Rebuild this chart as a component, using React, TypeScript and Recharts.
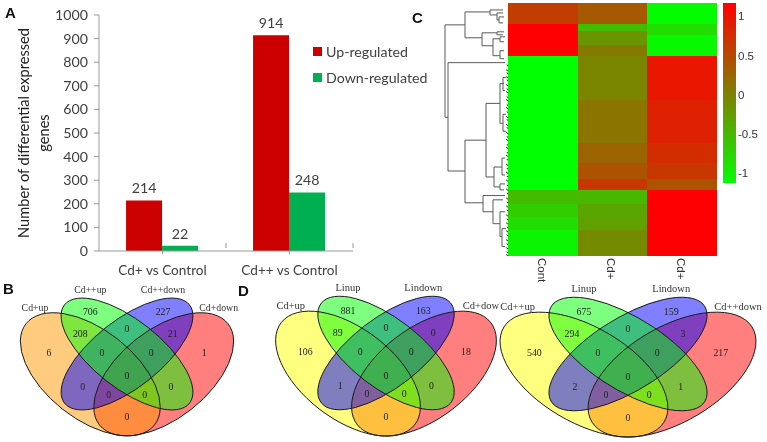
import React from "react";
import {
  Bar, BarChart, Cell, LabelList, Legend, Line, LineChart, Scatter, ScatterChart, XAxis, YAxis,
} from "recharts";

// ---------- Panel A data ----------
const comparisons = ["Cd+ vs Control", "Cd++ vs Control"];
const upRegulated = [214, 914];
const downRegulated = [22, 248];
const countTicks = [0, 100, 200, 300, 400, 500, 600, 700, 800, 900, 1000];

// ---------- Panel C data ----------
const heatColumns = ["Cont", "Cd+", "Cd+"];
const rowWeights = [62, 23, 10, 30, 35, 130, 130, 60, 47, 33, 40, 40, 40, 77];
const contValues = [0.6, 1.15, 1.15, 1.15, 1.15, -1.15, -1.15, -1.15, -1.15, -1.15, -0.55, -0.7, -0.85, -1.05];
const cdValues = [0.35, -0.55, -0.2, -0.2, 0.05, -0.05, 0.1, 0.25, 0.4, 0.65, -0.5, -0.35, -0.3, -0.1];
const cd2Values = [-1.12, -0.85, -0.85, -1.1, -1.1, 0.95, 0.85, 0.75, 0.65, 0.4, 1.15, 1.15, 1.15, 1.15];
const colorbarRange = [-1.13, 1.17];
const colorbarTicks = [-1, -0.5, 0, 0.5, 1];
// merge: [height, upper row, upper child height, lower row, lower child height]
const merges = [
  [5, 19, 25, 112, 8], [8, 57, 65, 166, 25], [25, 6, 50, 32, 42], [50, 4, 63, 9, 57], [57, 7, 63, 14, 59],
  [59, 11, 64, 17, 63], [42, 27, 57, 40, 53], [57, 26, 64, 29, 63], [53, 33, 60, 50, 60], [60, 31, 65, 36, 64],
  [60, 45, 64, 53, 64], [25, 135, 46, 198, 43], [46, 98, 60, 172, 54], [60, 78, 64, 118, 63], [63, 72, 66, 85, 65],
  [63, 109, 66, 126, 66], [54, 162, 62, 182, 60], [62, 153, 65, 170, 65], [60, 179, 65, 185, 64],
  [43, 190.7, 65, 207, 53], [53, 195, 63, 219, 60], [60, 207, 65, 232, 62], [62, 224, 66, 242, 65],
];
const leafRows = [59, 64, 67, 71, 74, 79, 83, 86, 91, 94, 99, 102, 106, 111, 114, 119, 122, 127, 131, 134, 139, 142, 147, 150, 154, 159, 163, 167, 171, 175, 180, 184, 188, 193, 197, 201, 205, 210, 214, 218, 222, 226, 230, 235, 239, 243, 247, 250];

// ---------- Venn data ----------
const vennBNames = ["Cd+up", "Cd++up", "Cd++down", "Cd+down"];
const vennBCounts = [6, 706, 208, 227, 21, 1, 0, 0, 0, 0, 0, 0, 0, 0, 0];
const vennD1Names = ["Cd+up", "Linup", "Lindown", "Cd+dow"];
const vennD1Counts = [106, 881, 89, 163, 0, 18, 0, 0, 0, 0, 1, 0, 0, 0, 0];
const vennD2Names = ["Cd++up", "Linup", "Lindown", "Cd++down"];
const vennD2Counts = [540, 675, 294, 159, 3, 217, 0, 0, 0, 0, 2, 1, 0, 0, 0];

// ---------- Layout / style constants ----------
const nameSlots = [[-92, -46.5], [-36.7, -65], [36, -65], [91.7, -46.5]];
const countSlots = [
  [-78, -1.3], [-36.7, -42.3], [-46.7, -20.3], [36, -42.3], [45.7, -20.3], [77.3, -1.3], [0, -25.3], [-25, -1.3],
  [24.3, -1.3], [0, 21.7], [-44.3, 32], [44, 32], [-18.3, 40.3], [17.7, 40.3], [0, 62.3],
];
const SANS = "Lato, 'Open Sans', sans-serif";
const ARIAL = "'Liberation Sans', Arial, sans-serif";
const SERIF = "'Liberation Serif', 'Times New Roman', serif";
const RED = "#CC0000";
const GREEN = "#00B050";
const INK = "#404040";

const heatColor = (v: number) => {
  const t = Math.max(0, Math.min(1, (v + 1.15) / 2.3));
  return `rgb(${Math.round(255 * t)},${Math.round(255 * (1 - t))},0)`;
};

const barData = comparisons.map((name, i) => ({ name, up: upRegulated[i], down: downRegulated[i] }));
const heatSeries = [contValues, cdValues, cd2Values];
const heatData = heatColumns.map((name, c) => {
  const row: Record<string, number | string> = { id: `${name}${c}`, name };
  rowWeights.forEach((w, r) => { row[`r${r}`] = w; });
  return row;
});
const dendroData: { x: number; y: number | null }[] = [];
merges.forEach(([h, y1, c1, y2, c2]) => {
  dendroData.push({ x: c1, y: y1 }, { x: h, y: y1 }, { x: h, y: y2 }, { x: c2, y: y2 }, { x: c2, y: null });
});
const leafData: { x: number; y: number | null }[] = [];
leafRows.forEach((r, i) => {
  leafData.push({ x: i % 2 ? 66.2 : 67, y: r }, { x: 68, y: r + 1.5 }, { x: 68, y: null });
});

const abs = (left: number, top: number): React.CSSProperties => ({ position: "absolute", left, top });

function Letter({ text, left, top }: { text: string; left: number; top: number }) {
  return (
    <div style={{ ...abs(left, top), font: `bold 15px ${ARIAL}`, lineHeight: "15px", color: "#111" }}>{text}</div>
  );
}

function YTitle({ viewBox }: any) {
  const cy = viewBox.y + viewBox.height / 2;
  return (
    <g fill="#222" fontFamily={SANS} fontSize={14.6} textAnchor="middle">
      <text x={29} y={cy} transform={`rotate(-90 29 ${cy})`}>Number of differential expressed</text>
      <text x={49} y={cy} transform={`rotate(-90 49 ${cy})`}>genes</text>
    </g>
  );
}

function CategoryTick({ x, y, payload }: any) {
  return (
    <g>
      <line x1={x + 63.5} x2={x + 63.5} y1={y - 13} y2={y - 8} stroke="#999" />
      <text x={x} y={y + 19} textAnchor="middle" fontFamily={SANS} fontSize={13.6} fill={INK}>{payload.value}</text>
    </g>
  );
}

function LegendBox({ payload }: any) {
  return (
    <div>
      {payload.map((p: any) => (
        <div key={p.value} style={{ display: "flex", alignItems: "center", height: 26, font: `14.2px ${SANS}`, color: INK }}>
          <span style={{ width: 9, height: 9, background: p.color, marginRight: 4, display: "inline-block" }} />
          {p.value}
        </div>
      ))}
    </div>
  );
}

function PanelA() {
  return (
    <div style={abs(0, 0)}>
      <BarChart width={440} height={280} data={barData} margin={{ top: 15, right: 87, bottom: 0, left: 0 }} barCategoryGap="21.3%" barGap={0}>
        <XAxis dataKey="name" height={29} tick={<CategoryTick />} tickLine={{ stroke: "#999" }} tickSize={3} axisLine={{ stroke: "#999" }} interval={0} />
        <YAxis
          width={99}
          domain={[0, 1000]}
          ticks={countTicks}
          interval={0}
          tickSize={5}
          tickMargin={6}
          tickLine={{ stroke: "#999" }}
          axisLine={{ stroke: "#999" }}
          tick={{ fontFamily: SANS, fontSize: 14.2, fill: INK }}
          label={<YTitle />}
        />
        <Bar dataKey="up" name="Up-regulated" fill={RED} isAnimationActive={false}>
          <LabelList dataKey="up" position="top" offset={7} style={{ fontFamily: SANS, fontSize: 14.2, fill: INK }} />
        </Bar>
        <Bar dataKey="down" name="Down-regulated" fill={GREEN} isAnimationActive={false}>
          <LabelList dataKey="down" position="top" offset={7} style={{ fontFamily: SANS, fontSize: 14.2, fill: INK }} />
        </Bar>
        <Legend content={<LegendBox />} layout="vertical" align="center" verticalAlign="middle" itemSorter={null} wrapperStyle={{ left: 313, top: 38, width: 125, bottom: "auto", right: "auto", margin: 0 }} />
      </BarChart>
    </div>
  );
}

function RotatedTick({ x, y, index }: any) {
  return (
    <text x={x - 2} y={y - 6} transform={`rotate(90 ${x - 2} ${y - 6})`} fontFamily={ARIAL} fontSize={11.5} fill="#333" dominantBaseline="middle">
      {heatColumns[index]}
    </text>
  );
}

function PanelC() {
  return (
    <>
      <div style={abs(440, 3)}>
        <LineChart width={68} height={253} data={dendroData} margin={{ top: 0, right: 0, bottom: 0, left: 0 }}>
          <XAxis hide type="number" dataKey="x" domain={[0, 68]} allowDuplicatedCategory />
          <YAxis hide type="number" domain={[-3, 250]} reversed />
          <Line dataKey="y" stroke="#5a5a5a" strokeWidth={1} dot={false} connectNulls={false} isAnimationActive={false} />
          <Line data={leafData} dataKey="y" stroke="#111" strokeWidth={1} dot={false} connectNulls={false} isAnimationActive={false} />
        </LineChart>
      </div>
      <div style={abs(508, 3)}>
        <BarChart width={209} height={300} data={heatData} margin={{ top: 0, right: 0, bottom: 0, left: 0 }} barCategoryGap={0} barGap={0}>
          <XAxis dataKey="id" height={47} axisLine={false} tickLine={false} tick={<RotatedTick />} interval={0} />
          <YAxis hide domain={[0, 757]} reversed allowDataOverflow />
          {rowWeights.map((_, r) => (
            <Bar key={r} dataKey={`r${r}`} stackId="heat" isAnimationActive={false}>
              {heatColumns.map((_c, c) => (
                <Cell key={c} fill={heatColor(heatSeries[c][r])} shapeRendering="crispEdges" />
              ))}
            </Bar>
          ))}
        </BarChart>
      </div>
      <div style={abs(723, 3)}>
        <BarChart width={44} height={180} data={[{ name: "scale", range: colorbarRange }]} margin={{ top: 0, right: 0, bottom: 0, left: 0 }} barCategoryGap={0}>
          <defs>
            <linearGradient id="cbar" x1="0" y1="0" x2="0" y2="1">
              <stop offset="0%" stopColor={heatColor(colorbarRange[1])} />
              <stop offset="100%" stopColor={heatColor(colorbarRange[0])} />
            </linearGradient>
          </defs>
          <XAxis hide dataKey="name" />
          <YAxis
            orientation="right"
            width={31}
            domain={colorbarRange}
            ticks={colorbarTicks}
            interval={0}
            axisLine={false}
            tickLine={false}
            tickSize={0}
            tick={{ fontFamily: ARIAL, fontSize: 11.5, fill: "#333" }}
            tickMargin={2}
            allowDataOverflow
          />
          <Bar dataKey="range" fill="url(#cbar)" isAnimationActive={false} />
        </BarChart>
      </div>
    </>
  );
}

type VennProps = {
  axis: number; centerY: number; sx: number; sy: number; names: string[]; counts: number[]; leftColor: string; nameSize: number;
};

function Venn({ axis, centerY, sx, sy, names, counts, leftColor, nameSize }: VennProps) {
  const W = 290;
  const H = 190;
  const ellipses = [
    { x: 36.7, y: 20.3, a: 81.8, b: 44.6, rot: -38.2, fill: "#ff0000" },
    { x: -36.7, y: 20.3, a: 81.8, b: 44.6, rot: 38.2, fill: leftColor },
    { x: 0, y: 0, a: 79.5, b: 33.9, rot: -38.2, fill: "#0000ff" },
    { x: 0, y: 0, a: 79.5, b: 33.9, rot: 38.2, fill: "#00ff00" },
  ];
  const nameData = names.map((label, i) => ({ label, x: nameSlots[i][0], y: nameSlots[i][1] }));
  const countData = counts.map((label, i) => ({ label, x: countSlots[i][0], y: countSlots[i][1] }));
  const ring = (outline: boolean) => ({ cx, cy, payload }: any) => (
    <ellipse
      rx={payload.a}
      ry={payload.b}
      transform={`translate(${cx} ${cy}) scale(${sx} ${sy}) rotate(${payload.rot})`}
      fill={outline ? "none" : payload.fill}
      fillOpacity={0.5}
      stroke={outline ? "#1a1a1a" : "none"}
      strokeWidth={1}
      vectorEffect="non-scaling-stroke"
    />
  );
  const words = (size: number, color: string) => ({ cx, cy, payload }: any) => (
    <text x={cx} y={cy} textAnchor="middle" dominantBaseline="central" fontFamily={SERIF} fontSize={size} fill={color}>
      {payload.label}
    </text>
  );
  return (
    <div style={abs(axis - W / 2, centerY - H / 2)}>
      <ScatterChart width={W} height={H} margin={{ top: 0, right: 0, bottom: 0, left: 0 }}>
        <XAxis hide type="number" dataKey="x" domain={[-W / 2 / sx, W / 2 / sx]} allowDataOverflow />
        <YAxis hide type="number" dataKey="y" domain={[-H / 2 / sy, H / 2 / sy]} reversed allowDataOverflow />
        <Scatter data={ellipses} shape={ring(false)} isAnimationActive={false} />
        <Scatter data={ellipses} shape={ring(true)} isAnimationActive={false} />
        <Scatter data={nameData} shape={words(nameSize, "#333")} isAnimationActive={false} />
        <Scatter data={countData} shape={words(9.8, "#222")} isAnimationActive={false} />
      </ScatterChart>
    </div>
  );
}

export default function App() {
  return (
    <div style={{ position: "absolute", left: 0, top: 0, width: 767, height: 442, overflow: "hidden", background: "#fff", filter: "blur(0.35px)" }}>
      <PanelA />
      <PanelC />
      <Venn axis={126.7} centerY={353.7} sx={1} sy={1} names={vennBNames} counts={vennBCounts} leftColor="#ff9900" nameSize={9.8} />
      <Venn axis={386} centerY={353.3} sx={1.035} sy={1.015} names={vennD1Names} counts={vennD1Counts} leftColor="#ffff00" nameSize={10.5} />
      <Venn axis={628} centerY={354} sx={1.2} sy={1.015} names={vennD2Names} counts={vennD2Counts} leftColor="#ffff00" nameSize={10.5} />
      <Letter text="A" left={5} top={5} />
      <Letter text="C" left={412} top={10} />
      <Letter text="B" left={3} top={281} />
      <Letter text="D" left={238} top={283} />
    </div>
  );
}
